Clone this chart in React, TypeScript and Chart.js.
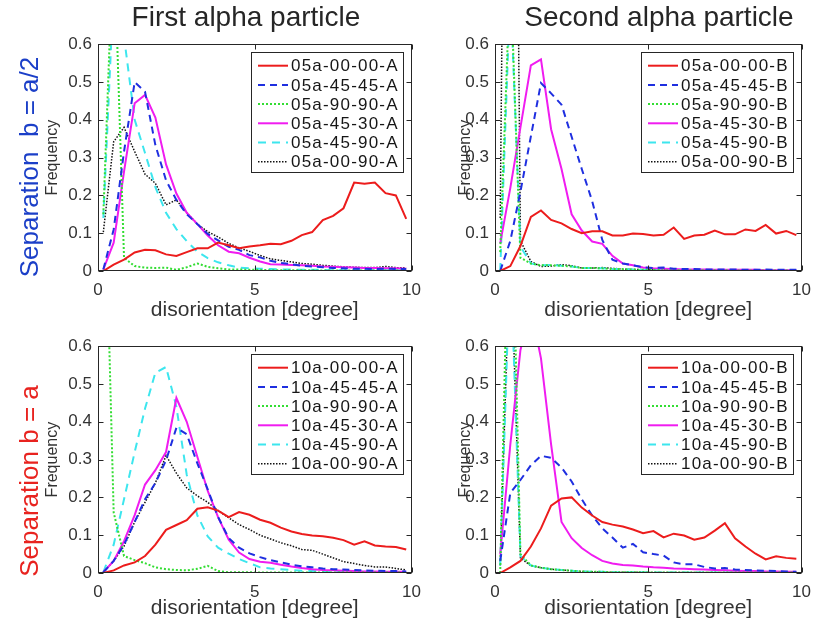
import React, { useEffect, useRef } from "react";
import { Chart, registerables } from "chart.js";

Chart.register(...registerables);

const FONT = "'Liberation Sans', Arial, Helvetica, sans-serif";
Chart.defaults.font.family = FONT;

// ---------- data ----------
const DEGREES = [0.17, 0.5, 0.83, 1.17, 1.5, 1.83, 2.17, 2.5, 2.83, 3.17, 3.5, 3.83, 4.17, 4.5, 4.83, 5.17, 5.5, 5.83, 6.17, 6.5, 6.83, 7.17, 7.5, 7.83, 8.17, 8.5, 8.83, 9.17, 9.5, 9.83];
const X_TICK_LABELS = ["0", "5", "10"];
const Y_TICK_LABELS = ["0", "0.1", "0.2", "0.3", "0.4", "0.5", "0.6"];
const CONFIG_CODES = ["00-00", "45-45", "90-90", "45-30", "45-90", "00-90"];
const COLUMN_TITLES = ["First alpha particle", "Second alpha particle"];
const ROW_LABELS = ["Separation  b = a/2", "Separation b = a"];

// first alpha particle, b = a/2
const S05a_00_00_A = [0.0, 0.017, 0.03, 0.049, 0.056, 0.055, 0.044, 0.04, 0.05, 0.06, 0.06, 0.075, 0.068, 0.06, 0.065, 0.068, 0.072, 0.071, 0.08, 0.095, 0.103, 0.135, 0.146, 0.166, 0.234, 0.231, 0.234, 0.206, 0.2, 0.138];
const S05a_45_45_A = [0.004, 0.11, 0.316, 0.5, 0.474, 0.333, 0.24, 0.188, 0.15, 0.124, 0.098, 0.081, 0.064, 0.056, 0.042, 0.036, 0.027, 0.021, 0.018, 0.014, 0.012, 0.01, 0.008, 0.007, 0.006, 0.006, 0.005, 0.006, 0.005, 0.005];
const S05a_90_90_A = [0.15, 0.9, 0.035, 0.013, 0.009, 0.008, 0.009, 0.003, 0.01, 0.02, 0.011, 0.007, 0.004, 0.004, 0.003, 0.003, 0.002, 0.002, 0.002, 0.002, 0.002, 0.001, 0.001, 0.001, 0.001, 0.001, 0.001, 0.001, 0.001, 0.001];
const S05a_45_30_A = [0.004, 0.075, 0.263, 0.444, 0.466, 0.406, 0.282, 0.205, 0.154, 0.124, 0.094, 0.068, 0.051, 0.047, 0.035, 0.025, 0.018, 0.017, 0.016, 0.015, 0.014, 0.012, 0.011, 0.01, 0.009, 0.008, 0.008, 0.007, 0.007, 0.006];
const S05a_45_90_A = [0.14, 0.75, 0.62, 0.4, 0.312, 0.222, 0.154, 0.111, 0.079, 0.051, 0.034, 0.023, 0.015, 0.009, 0.007, 0.006, 0.005, 0.004, 0.004, 0.003, 0.003, 0.003, 0.002, 0.002, 0.002, 0.002, 0.002, 0.002, 0.002, 0.002];
const S05a_00_90_A = [0.103, 0.342, 0.38, 0.316, 0.256, 0.232, 0.175, 0.188, 0.154, 0.124, 0.104, 0.09, 0.073, 0.061, 0.052, 0.041, 0.032, 0.028, 0.024, 0.02, 0.018, 0.015, 0.013, 0.011, 0.01, 0.009, 0.009, 0.012, 0.009, 0.008];

// second alpha particle, b = a/2
const S05a_00_00_B = [0.0, 0.013, 0.066, 0.143, 0.16, 0.135, 0.126, 0.111, 0.1, 0.105, 0.105, 0.094, 0.094, 0.099, 0.098, 0.094, 0.096, 0.115, 0.085, 0.094, 0.096, 0.107, 0.097, 0.097, 0.11, 0.106, 0.122, 0.099, 0.106, 0.095];
const S05a_45_45_B = [0.0, 0.08, 0.21, 0.356, 0.497, 0.47, 0.44, 0.355, 0.27, 0.185, 0.082, 0.03, 0.02, 0.015, 0.01, 0.008, 0.009, 0.006, 0.005, 0.005, 0.004, 0.004, 0.004, 0.004, 0.003, 0.003, 0.004, 0.003, 0.003, 0.003];
const S05a_90_90_B = [0.05, 0.8, 0.035, 0.02, 0.015, 0.015, 0.014, 0.012, 0.008, 0.008, 0.007, 0.005, 0.005, 0.004, 0.003, 0.003, 0.002, 0.002, 0.002, 0.002, 0.002, 0.002, 0.002, 0.001, 0.001, 0.001, 0.001, 0.001, 0.001, 0.001];
const S05a_45_30_B = [0.073, 0.22, 0.38, 0.544, 0.56, 0.375, 0.27, 0.15, 0.107, 0.078, 0.072, 0.04, 0.02, 0.015, 0.009, 0.007, 0.006, 0.005, 0.004, 0.004, 0.004, 0.003, 0.003, 0.003, 0.003, 0.003, 0.002, 0.002, 0.002, 0.002];
const S05a_45_90_B = [0.0, 0.75, 0.065, 0.02, 0.015, 0.016, 0.014, 0.012, 0.008, 0.008, 0.007, 0.005, 0.005, 0.004, 0.003, 0.003, 0.003, 0.002, 0.002, 0.002, 0.002, 0.002, 0.002, 0.002, 0.001, 0.001, 0.001, 0.001, 0.001, 0.001];
const S05a_00_90_B = [0.14, 3.0, 0.08, 0.025, 0.012, 0.013, 0.017, 0.014, 0.008, 0.008, 0.009, 0.007, 0.005, 0.004, 0.004, 0.003, 0.003, 0.003, 0.002, 0.002, 0.002, 0.002, 0.002, 0.002, 0.002, 0.001, 0.001, 0.001, 0.001, 0.001];

// first alpha particle, b = a
const S10a_00_00_A = [0.0, 0.007, 0.02, 0.028, 0.045, 0.075, 0.114, 0.127, 0.14, 0.17, 0.174, 0.165, 0.148, 0.161, 0.154, 0.141, 0.133, 0.12, 0.11, 0.103, 0.099, 0.097, 0.093, 0.087, 0.075, 0.084, 0.073, 0.07, 0.069, 0.062];
const S10a_45_45_A = [0.002, 0.032, 0.075, 0.135, 0.195, 0.238, 0.298, 0.384, 0.367, 0.29, 0.221, 0.148, 0.092, 0.067, 0.052, 0.042, 0.034, 0.028, 0.022, 0.018, 0.015, 0.012, 0.01, 0.009, 0.008, 0.007, 0.006, 0.005, 0.005, 0.004];
const S10a_90_90_A = [1.2, 0.16, 0.045, 0.034, 0.026, 0.015, 0.01, 0.008, 0.007, 0.011, 0.019, 0.005, 0.002, 0.002, 0.002, 0.001, 0.001, 0.001, 0.001, 0.001, 0.001, 0.001, 0.001, 0.001, 0.001, 0.001, 0.001, 0.001, 0.001, 0.001];
const S10a_45_30_A = [0.002, 0.032, 0.084, 0.153, 0.234, 0.272, 0.32, 0.463, 0.4, 0.307, 0.217, 0.148, 0.088, 0.054, 0.037, 0.03, 0.027, 0.022, 0.017, 0.013, 0.01, 0.008, 0.007, 0.006, 0.005, 0.004, 0.004, 0.003, 0.003, 0.003];
const S10a_45_90_A = [0.002, 0.075, 0.195, 0.32, 0.435, 0.53, 0.545, 0.44, 0.26, 0.152, 0.097, 0.067, 0.051, 0.037, 0.026, 0.015, 0.012, 0.01, 0.008, 0.006, 0.005, 0.004, 0.004, 0.003, 0.003, 0.003, 0.002, 0.002, 0.002, 0.002];
const S10a_00_90_A = [0.002, 0.032, 0.071, 0.135, 0.187, 0.238, 0.311, 0.264, 0.225, 0.204, 0.187, 0.165, 0.146, 0.128, 0.115, 0.1, 0.09, 0.08, 0.072, 0.062, 0.06, 0.05, 0.04, 0.03, 0.025, 0.02, 0.016, 0.016, 0.012, 0.008];

// second alpha particle, b = a
const S10a_00_00_B = [0.0, 0.015, 0.032, 0.07, 0.118, 0.178, 0.197, 0.2, 0.173, 0.152, 0.135, 0.128, 0.123, 0.115, 0.105, 0.111, 0.094, 0.104, 0.099, 0.088, 0.094, 0.112, 0.132, 0.092, 0.07, 0.051, 0.036, 0.044, 0.04, 0.038];
const S10a_45_45_B = [0.032, 0.212, 0.246, 0.285, 0.31, 0.305, 0.279, 0.242, 0.195, 0.152, 0.118, 0.094, 0.067, 0.077, 0.055, 0.05, 0.046, 0.028, 0.023, 0.023, 0.016, 0.012, 0.013, 0.009, 0.008, 0.007, 0.006, 0.005, 0.004, 0.003];
const S10a_90_90_B = [0.0, 1.2, 0.05, 0.02, 0.014, 0.01, 0.008, 0.006, 0.004, 0.003, 0.003, 0.002, 0.002, 0.002, 0.002, 0.001, 0.001, 0.001, 0.001, 0.001, 0.001, 0.001, 0.001, 0.001, 0.001, 0.001, 0.001, 0.001, 0.001, 0.001];
const S10a_45_30_B = [0.049, 0.34, 0.59, 0.7, 0.568, 0.34, 0.135, 0.092, 0.066, 0.047, 0.032, 0.025, 0.021, 0.02, 0.017, 0.015, 0.014, 0.012, 0.011, 0.01, 0.009, 0.008, 0.007, 0.006, 0.005, 0.005, 0.004, 0.004, 0.003, 0.003];
const S10a_45_90_B = [0.02, 0.85, 0.045, 0.02, 0.014, 0.01, 0.008, 0.006, 0.004, 0.003, 0.003, 0.002, 0.002, 0.002, 0.002, 0.001, 0.001, 0.001, 0.001, 0.001, 0.001, 0.001, 0.001, 0.001, 0.001, 0.001, 0.001, 0.001, 0.001, 0.001];
const S10a_00_90_B = [0.02, 0.9, 0.04, 0.019, 0.014, 0.01, 0.008, 0.006, 0.004, 0.003, 0.003, 0.002, 0.002, 0.002, 0.002, 0.001, 0.001, 0.001, 0.001, 0.001, 0.001, 0.001, 0.001, 0.001, 0.001, 0.001, 0.001, 0.001, 0.001, 0.001];

// ---------- styles ----------
const TEXT = "#333333";
const SERIES_STYLE = [
  { color: "#ec1c1c", width: 2, dash: [] as number[] },
  { color: "#1f2fe0", width: 2, dash: [7, 5] },
  { color: "#33dd33", width: 2, dash: [2, 2] },
  { color: "#f01cf0", width: 2, dash: [] as number[] },
  { color: "#3de6ee", width: 2, dash: [8, 6] },
  { color: "#111111", width: 1.5, dash: [1.5, 1.5] },
];

const PANELS = [
  { key: "p1", prefix: "05a", suffix: "A", series: [S05a_00_00_A, S05a_45_45_A, S05a_90_90_A, S05a_45_30_A, S05a_45_90_A, S05a_00_90_A],
    left: 40, top: 28, width: 390, height: 302, yAxisW: 58, padTop: 10, padRight: 18, xAxisH: 59, xTitlePad: 7, yTitlePad: 3 },
  { key: "p2", prefix: "05a", suffix: "B", series: [S05a_00_00_B, S05a_45_45_B, S05a_90_90_B, S05a_45_30_B, S05a_45_90_B, S05a_00_90_B],
    left: 440, top: 28, width: 380, height: 302, yAxisW: 55, padTop: 10, padRight: 14, xAxisH: 59, xTitlePad: 7, yTitlePad: 16 },
  { key: "p3", prefix: "10a", suffix: "A", series: [S10a_00_00_A, S10a_45_45_A, S10a_90_90_A, S10a_45_30_A, S10a_45_90_A, S10a_00_90_A],
    left: 40, top: 330, width: 390, height: 300, yAxisW: 58, padTop: 10, padRight: 18, xAxisH: 57, xTitlePad: 9, yTitlePad: 3 },
  { key: "p4", prefix: "10a", suffix: "B", series: [S10a_00_00_B, S10a_45_45_B, S10a_90_90_B, S10a_45_30_B, S10a_45_90_B, S10a_00_90_B],
    left: 440, top: 330, width: 380, height: 300, yAxisW: 55, padTop: 10, padRight: 14, xAxisH: 57, xTitlePad: 9, yTitlePad: 16 },
];

// ---------- plugins ----------
const framePlugin = {
  id: "matlabFrame",
  afterDatasetsDraw(chart: any) {
    const { ctx, chartArea: a, scales } = chart;
    ctx.save();
    ctx.strokeStyle = "#262626";
    ctx.lineWidth = 1;
    ctx.setLineDash([]);
    const L = Math.round(a.left) + 0.5;
    const R = Math.round(a.right) - 0.5;
    const T = Math.round(a.top) + 0.5;
    const B = Math.round(a.bottom) - 0.5;
    ctx.strokeRect(L, T, R - L, B - T);
    const tl = 5;
    ctx.beginPath();
    scales.y.ticks.forEach((t: any) => {
      const y = Math.round(scales.y.getPixelForValue(t.value)) + 0.5;
      ctx.moveTo(L, y); ctx.lineTo(L + tl, y);
      ctx.moveTo(R, y); ctx.lineTo(R - tl, y);
    });
    scales.x.ticks.forEach((t: any) => {
      const x = Math.round(scales.x.getPixelForValue(t.value)) + 0.5;
      ctx.moveTo(x, B); ctx.lineTo(x, B - tl);
      ctx.moveTo(x, T); ctx.lineTo(x, T + tl);
    });
    ctx.stroke();
    ctx.restore();
  },
};

const boxLegendPlugin = {
  id: "boxLegend",
  afterDraw(chart: any) {
    const { ctx, chartArea: a } = chart;
    const ds = chart.data.datasets;
    ctx.save();
    ctx.font = `17px ${FONT}`;
    (ctx as any).letterSpacing = "1.2px";
    const textW = Math.max(...ds.map((d: any) => ctx.measureText(d.label).width));
    const rowH = 19.2, padL = 7, sample = 30, gap = 3, padR = 4;
    const w = Math.round(padL + sample + gap + textW + padR);
    const h = Math.round(24 + rowH * (ds.length - 1));
    const right = Math.round(a.right) - 9;
    const top = Math.round(a.top) + 8;
    const left = right - w;
    ctx.fillStyle = "#ffffff";
    ctx.fillRect(left, top, w, h);
    ctx.strokeStyle = "#262626";
    ctx.lineWidth = 1;
    ctx.setLineDash([]);
    ctx.strokeRect(left + 0.5, top + 0.5, w, h);
    ds.forEach((d: any, i: number) => {
      const y = top + 13.7 + i * rowH;
      ctx.beginPath();
      ctx.strokeStyle = d.borderColor;
      ctx.lineWidth = d.borderWidth;
      ctx.setLineDash(d.borderDash || []);
      ctx.moveTo(left + padL, y);
      ctx.lineTo(left + padL + sample, y);
      ctx.stroke();
      ctx.setLineDash([]);
      ctx.fillStyle = "#161616";
      ctx.textBaseline = "middle";
      ctx.textAlign = "left";
      ctx.fillText(d.label, left + padL + sample + gap, y + 1);
    });
    ctx.restore();
  },
};

function buildConfig(p: any): any {
  return {
    type: "line",
    data: {
      datasets: p.series.map((vals: number[], i: number) => ({
        label: `${p.prefix}-${CONFIG_CODES[i]}-${p.suffix}`,
        data: DEGREES.map((x, j) => ({ x, y: vals[j] })),
        borderColor: SERIES_STYLE[i].color,
        backgroundColor: SERIES_STYLE[i].color,
        borderWidth: SERIES_STYLE[i].width,
        borderDash: SERIES_STYLE[i].dash,
        pointRadius: 0,
        pointHoverRadius: 0,
        tension: 0,
        fill: false,
        clip: 0,
      })),
    },
    options: {
      responsive: false,
      animation: false,
      events: [],
      layout: { padding: { top: p.padTop, right: p.padRight, bottom: 0, left: 0 } },
      plugins: { legend: { display: false }, tooltip: { enabled: false } },
      scales: {
        x: {
          type: "linear",
          min: 0,
          max: 10,
          grid: { display: false, drawTicks: false },
          border: { display: false },
          ticks: {
            stepSize: 5,
            maxRotation: 0,
            padding: 9,
            color: TEXT,
            font: { family: FONT, size: 17 },
            callback: (_v: any, i: number) => X_TICK_LABELS[i],
          },
          title: {
            display: true,
            text: "disorientation [degree]",
            color: TEXT,
            font: { family: FONT, size: 21 },
            padding: { top: 0, bottom: p.xTitlePad },
          },
          afterFit: (s: any) => { s.height = p.xAxisH; },
        },
        y: {
          type: "linear",
          min: 0,
          max: 0.6,
          grid: { display: false, drawTicks: false },
          border: { display: false },
          ticks: {
            stepSize: 0.1,
            padding: 6,
            color: TEXT,
            font: { family: FONT, size: 17 },
            callback: (_v: any, i: number) => Y_TICK_LABELS[i],
          },
          title: {
            display: true,
            text: "Frequency",
            color: TEXT,
            font: { family: FONT, size: 16 },
            padding: { top: p.yTitlePad, bottom: 0 },
          },
          afterFit: (s: any) => { s.width = p.yAxisW; },
        },
      },
    },
    plugins: [framePlugin, boxLegendPlugin],
  };
}

function PanelChart({ panel }: { panel: any }) {
  const ref = useRef<HTMLCanvasElement | null>(null);
  useEffect(() => {
    if (!ref.current) return;
    const chart = new Chart(ref.current, buildConfig(panel));
    return () => chart.destroy();
  }, [panel]);
  return (
    <canvas
      ref={ref}
      width={panel.width}
      height={panel.height}
      style={{ position: "absolute", left: panel.left, top: panel.top, width: panel.width, height: panel.height }}
    />
  );
}

export default function App() {
  return (
    <div style={{ position: "fixed", left: 0, top: 0, width: 820, height: 630, background: "#fff", overflow: "hidden", fontFamily: FONT }}>
      {PANELS.map((p) => (
        <PanelChart key={p.key} panel={p} />
      ))}
      <div style={{ position: "absolute", left: 46, top: 1, width: 400, textAlign: "center", fontSize: 28, lineHeight: "32px", color: "#262626", whiteSpace: "nowrap" }}>
        {COLUMN_TITLES[0]}
      </div>
      <div style={{ position: "absolute", left: 459, top: 1, width: 400, textAlign: "center", fontSize: 28, lineHeight: "32px", color: "#262626", whiteSpace: "nowrap" }}>
        {COLUMN_TITLES[1]}
      </div>
      <div style={{ position: "absolute", left: 29, top: 167, transform: "translate(-50%, -50%) rotate(-90deg)", whiteSpace: "pre", fontSize: 26, lineHeight: "30px", color: "#1b3fc8" }}>
        {ROW_LABELS[0]}
      </div>
      <div style={{ position: "absolute", left: 29, top: 481, transform: "translate(-50%, -50%) rotate(-90deg)", whiteSpace: "pre", fontSize: 26, lineHeight: "30px", color: "#e8231f" }}>
        {ROW_LABELS[1]}
      </div>
    </div>
  );
}
